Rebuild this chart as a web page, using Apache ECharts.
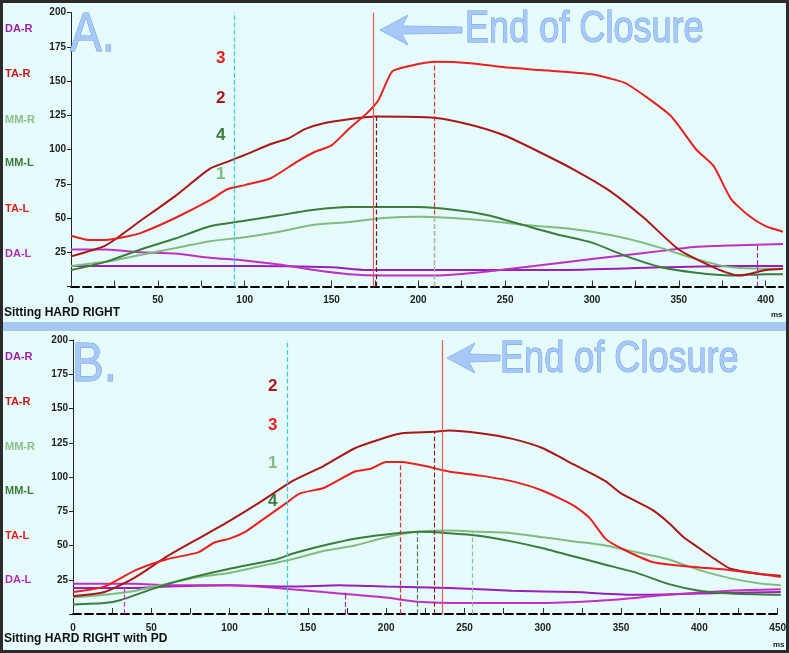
<!DOCTYPE html>
<html><head><meta charset="utf-8">
<script src="https://cdn.jsdelivr.net/npm/echarts@6/dist/echarts.min.js"></script>
<style>html,body{margin:0;padding:0;background:#2b2b2b;}#c{width:789px;height:653px;}</style>
</head><body><div id="c"></div>
<script>
// Panel A data [ms, value]
const A_TA_R = [[0,22],[20,30],[40,48],[60,66],[80,86],[90,91],[100,96],[115,104],[125,108],[135,115],[145,119],[160,122],[175,124],[210,123],[230,118],[250,110],[270,98],[290,85],[310,70],[330,50],[350,27],[370,14],[385,8],[400,12],[410,13]];
const A_TA_L = [[0,37],[10,34],[20,34],[30,36],[40,39],[60,50],[80,63],[90,71],[100,74],[115,79],[130,91],[140,98],[150,103],[160,115],[170,126],[177,136],[185,157],[195,161],[210,164],[230,163],[250,160],[270,158],[300,155],[310,152],[320,148],[345,125],[360,100],[370,88],[380,64],[390,52],[400,44],[410,40]];
const A_MM_L = [[0,12],[20,18],[40,27],[60,35],[80,44],[100,48],[120,52],[140,56],[160,58],[200,58],[220,56],[240,52],[260,45],[280,38],[300,32],[320,22],[340,14],[360,10],[380,8],[400,9],[410,9]];
const A_MM_R = [[0,15],[20,18],[40,23],[60,28],[80,33],[100,36],[120,40],[140,45],[160,47],[180,50],[200,51],[220,50],[240,48],[260,45],[280,43],[300,40],[320,35],[340,28],[360,20],[380,14],[400,13],[410,13]];
const A_DA_L = [[0,27],[20,27],[40,25],[60,24],[80,21],[100,19],[120,16],[140,12],[160,9],[180,8],[210,8],[240,11],[280,17],[320,23],[340,26],[360,29],[380,30],[410,31]];
const A_DA_R = [[0,15],[100,15],[150,14],[170,12],[220,12],[280,12],[340,14],[380,15],[410,15]];
// Panel B data
const B_TA_R = [[0,13],[20,16],[40,27],[60,42],[80,55],[100,68],[120,82],[140,97],[160,108],[180,121],[200,129],[210,132],[230,133],[240,134],[260,132],[280,128],[300,121],[320,109],[340,97],[350,88],[360,82],[370,76],[380,67],[390,56],[400,48],[410,40],[420,33],[440,29],[452,28]];
const B_TA_L = [[0,16],[20,20],[40,32],[60,40],[80,45],[90,52],[100,55],[110,60],[120,68],[135,80],[145,88],[160,92],[180,104],[190,106],[200,111],[210,111],[225,108],[240,104],[260,101],[280,97],[300,90],[320,79],[330,70],[340,55],[350,48],[370,38],[390,35],[400,34],[420,32],[440,29],[452,27]];
const B_MM_R = [[0,12],[20,14],[40,17],[60,22],[80,27],[100,30],[120,35],[140,40],[160,46],[180,50],[200,56],[220,60],[240,61],[260,60],[280,59],[300,56],[320,53],[340,50],[360,45],[380,40],[400,32],[420,26],[440,22],[452,21]];
const B_MM_L = [[0,7],[20,8],[30,10],[50,18],[70,25],[100,33],[130,40],[140,44],[160,50],[180,55],[200,58],[220,60],[240,59],[260,57],[280,53],[300,48],[320,42],[340,36],[360,30],[380,22],[400,17],[420,15],[452,14]];
const B_DA_L = [[0,22],[40,22],[60,21],[100,21],[130,19],[160,16],[180,14],[200,12],[220,9],[250,8],[300,8],[340,10],[380,14],[420,17],[452,18]];
const B_DA_R = [[0,19],[40,19],[60,20],[100,21],[140,20],[170,21],[200,20],[240,19],[280,17],[320,16],[360,14],[400,15],[452,16]];
// vertical markers [x, top, color, type]
const A_MARK = [[94,200,'#30d0e0','dashed'],[174,200,'#f05a5a','solid'],[176,124,'#602020','dashed'],[209,164,'#e03030','dashed'],[209,51,'#a0c0a0','dashed'],[395,31,'#a030a0','dashed']];
const B_MARK = [[33,20,'#c030c0','dashed'],[137,200,'#30d0e0','dashed'],[174,16,'#a030a0','dashed'],[209,111,'#e03030','dashed'],[220,60,'#508050','dashed'],[231,133,'#902020','dashed'],[236,200,'#f05a5a','solid'],[255,61,'#90c090','dashed']];
const ROW_LABELS = ['DA-R','TA-R','MM-R','MM-L','TA-L','DA-L'];
const ROW_COLORS = ['#a020a0','#c01818','#88c088','#3a7a3a','#e02020','#b030b0'];
const Y_TICKS = [25,50,75,100,125,150,175,200];

const C = {taR:'#a81818', taL:'#e82020', mmL:'#3c7c3c', mmR:'#80bc80', daL:'#c030c0', daR:'#9820b8'};

function yAx(i){return {type:'value',gridIndex:i,min:0,max:200,interval:25,
  axisLine:{show:true,lineStyle:{color:'#222'}},axisTick:{show:true,length:4,lineStyle:{color:'#222'}},
  splitLine:{show:false},axisLabel:{fontSize:10,fontWeight:'bold',color:'#222',margin:5,fontFamily:'Liberation Sans',formatter:v=>Y_TICKS.includes(v)?String(v):''}};}
function xAx(i,max){return {type:'value',gridIndex:i,min:0,max:max,interval:25,
  axisLine:{show:true,lineStyle:{color:'#000',type:'dashed',width:2}},
  axisTick:{show:true,inside:true,length:6,lineStyle:{color:'#333'}},
  minorTick:{show:false},splitLine:{show:false},
  axisLabel:{fontSize:10,fontWeight:'bold',color:'#222',fontFamily:'Liberation Sans',margin:9,showMaxLabel:false,formatter:v=>v%50===0?String(v):''}};}
function ln(i,data,color){return {type:'line',xAxisIndex:i,yAxisIndex:i,data:data,showSymbol:false,smooth:0.2,lineStyle:{color:color,width:2},z:3};}
function marks(i,list){return {type:'line',xAxisIndex:i,yAxisIndex:i,data:[],silent:true,
  markLine:{symbol:'none',label:{show:false},data:list.map(m=>[{coord:[m[0],0],lineStyle:{color:m[2],type:m[3],width:1.2}},{coord:[m[0],m[1]]}])}};}

const graphics = [
  {type:'rect',shape:{x:3,y:3,width:783,height:319},style:{fill:'#e6fbfb'},z:-10},
  {type:'rect',shape:{x:3,y:322,width:783,height:9},style:{fill:'#a8c8f0'},z:-10},
  {type:'rect',shape:{x:3,y:331,width:783,height:319},style:{fill:'#e6fbfb'},z:-10},
];
const rowYA=[30,75,121,164,210,255], rowYB=[358,403,448,492,537,581];
ROW_LABELS.forEach((t,k)=>{
  graphics.push({type:'text',left:5,top:rowYA[k]-7,style:{text:t,fill:ROW_COLORS[k],font:'bold 11px Liberation Sans'}});
  graphics.push({type:'text',left:5,top:rowYB[k]-7,style:{text:t,fill:ROW_COLORS[k],font:'bold 11px Liberation Sans'}});
});
function big(t,x,y,size,sx){graphics.push({type:'text',x:x,y:y,scaleX:sx,z:20,style:{text:t,fill:'#a8c8f8',stroke:'#6a9ae0',lineWidth:1,font:size+'px "Liberation Sans", sans-serif'}});}
big('A.',70,8,56,0.85); big('End of Closure',465,8,44,0.82);
big('B.',72,338,56,0.85); big('End of Closure',500,338,44,0.82);
function arrow(x1,x2,y){graphics.push({type:'polygon',z:20,shape:{points:[[x1,y],[x1+28,y-15],[x1+22,y-4],[x2,y-3],[x2,y+3],[x1+22,y+4],[x1+28,y+15]]},style:{fill:'#a8c8f8',stroke:'#90b8f0'}});}
arrow(380,462,30); arrow(447,500,358);
function num(t,x,y,c){graphics.push({type:'text',left:x,top:y,style:{text:t,fill:c,font:'bold 17px Liberation Sans'}});}
num('3',216,50,'#e82020'); num('2',216,90,'#a81818'); num('4',216,127,'#3c7c3c'); num('1',216,166,'#80bc80');
num('2',268,378,'#a81818'); num('3',268,417,'#e82020'); num('1',268,455,'#80bc80'); num('4',268,493,'#3c7c3c');
graphics.push({type:'text',left:4,top:307,style:{text:'Sitting HARD RIGHT',fill:'#111',font:'bold 12px Liberation Sans'}});
graphics.push({type:'text',left:4,top:633,style:{text:'Sitting HARD RIGHT with PD',fill:'#111',font:'bold 12px Liberation Sans'}});
graphics.push({type:'text',left:771,top:311,style:{text:'ms',fill:'#222',font:'bold 8px Liberation Sans'}});
graphics.push({type:'text',left:773,top:641,style:{text:'ms',fill:'#222',font:'bold 8px Liberation Sans'}});

const chart = echarts.init(document.getElementById('c'));
chart.setOption({
  animation:false,
  grid:[{left:71,right:6,top:12.5,bottom:366.5},{left:73,right:4,top:340,bottom:39}],
  xAxis:[xAx(0,410),xAx(1,452)],
  yAxis:[yAx(0),yAx(1)],
  graphic:graphics,
  series:[
    ln(0,A_DA_R,C.daR),ln(0,A_DA_L,C.daL),ln(0,A_MM_R,C.mmR),ln(0,A_MM_L,C.mmL),ln(0,A_TA_R,C.taR),ln(0,A_TA_L,C.taL),
    ln(1,B_DA_R,C.daR),ln(1,B_DA_L,C.daL),ln(1,B_MM_R,C.mmR),ln(1,B_MM_L,C.mmL),ln(1,B_TA_R,C.taR),ln(1,B_TA_L,C.taL),
    marks(0,A_MARK),marks(1,B_MARK)
  ]
});
</script></body></html>
